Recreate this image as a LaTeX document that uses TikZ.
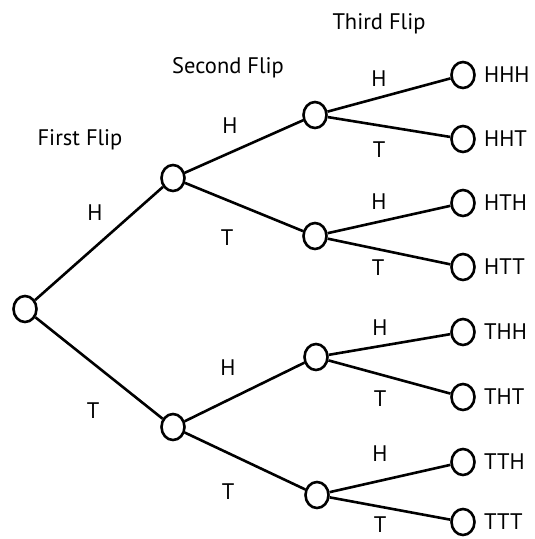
\documentclass[tikz,border=0pt]{standalone}
\usepackage{fontspec}
\setmainfont{PT Sans}
\usetikzlibrary{shapes.geometric}
\begin{document}
\begin{tikzpicture}[x=1pt,y=-1pt,
  outcome/.style={draw,ellipse,line width=2.6pt,minimum width=23pt,minimum height=26pt,inner sep=0pt},
  branch/.style={line width=2.6pt},
  lbl/.style={font=\fontsize{22.5}{26}\selectfont,inner sep=0pt},
  res/.style={font=\fontsize{22.5}{26}\selectfont,inner sep=0pt,anchor=west}]
\useasboundingbox (0,0) rectangle (535,539);
% nodes
\node[outcome] (r) at (25,309) {};
\node[outcome] (h) at (173,178) {};
\node[outcome] (t) at (173,427) {};
\node[outcome] (hh) at (315,115) {};
\node[outcome] (ht) at (315,236) {};
\node[outcome] (th) at (316,357) {};
\node[outcome] (tt) at (317,495) {};
\node[outcome] (hhh) at (463,75) {};
\node[outcome] (hht) at (463,139) {};
\node[outcome] (hth) at (463,203) {};
\node[outcome] (htt) at (463,267) {};
\node[outcome] (thh) at (463,332) {};
\node[outcome] (tht) at (463,397) {};
\node[outcome] (tth) at (463,462) {};
\node[outcome] (ttt) at (463,522) {};
% edges
\draw[branch] (r) -- (h);
\draw[branch] (r) -- (t);
\draw[branch] (h) -- (hh);
\draw[branch] (h) -- (ht);
\draw[branch] (t) -- (th);
\draw[branch] (t) -- (tt);
\draw[branch] (hh) -- (hhh);
\draw[branch] (hh) -- (hht);
\draw[branch] (ht) -- (hth);
\draw[branch] (ht) -- (htt);
\draw[branch] (th) -- (thh);
\draw[branch] (th) -- (tht);
\draw[branch] (tt) -- (tth);
\draw[branch] (tt) -- (ttt);
% headings
\node[lbl] (f1) at (80,140) {First Flip};
\node[lbl] (f2) at (228,68) {Second Flip};
\node[lbl] (f3) at (379,24) {Third Flip};
% branch labels
\node[lbl] (l1) at (95,213) {H};
\node[lbl] (l2) at (93,411) {T};
\node[lbl] (l3) at (230,126) {H};
\node[lbl] (l4) at (227,238) {T};
\node[lbl] (l5) at (228,368) {H};
\node[lbl] (l6) at (228,492) {T};
\node[lbl] (l7) at (379,79) {H};
\node[lbl] (l8) at (379,150) {T};
\node[lbl] (l9) at (379,202) {H};
\node[lbl] (l10) at (378,268) {T};
\node[lbl] (l11) at (380,328) {H};
\node[lbl] (l12) at (380,399) {T};
\node[lbl] (l13) at (380,454) {H};
\node[lbl] (l14) at (380,525) {T};
% outcomes
\node[res] at (484,75) {HHH};
\node[res] at (484,139) {HHT};
\node[res] at (484,203) {HTH};
\node[res] at (484,267) {HTT};
\node[res] at (484,332) {THH};
\node[res] at (484,397) {THT};
\node[res] at (484,462) {TTH};
\node[res] at (484,522) {TTT};
\end{tikzpicture}
\end{document}
